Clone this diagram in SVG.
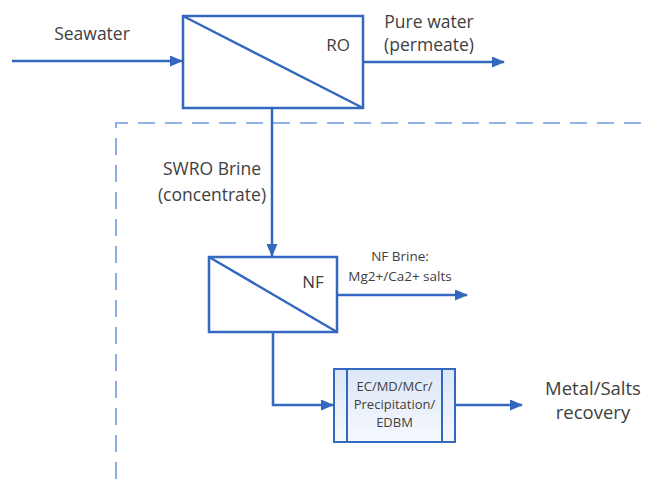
<svg xmlns="http://www.w3.org/2000/svg" width="651" height="479" viewBox="0 0 651 479">
<defs>
<style>
.ln{stroke:#3468C0;stroke-width:2.5;fill:none}
.bx{stroke:#3468C0;stroke-width:2.5;fill:#fff}
.t{font-family:"Open Sans","Liberation Sans",sans-serif;fill:#404040}
.dash{stroke:#6E9BE0;stroke-width:1.6;fill:none;stroke-dasharray:17 10}
</style>
<marker id="ah" viewBox="0 0 13 11" refX="12" refY="5.5" markerWidth="13" markerHeight="11" markerUnits="userSpaceOnUse" orient="auto">
<path d="M0,0 L13,5.5 L0,11 Z" fill="#3468C0"/>
</marker>
<linearGradient id="g" x1="0" y1="0" x2="0" y2="1">
<stop offset="0" stop-color="#DCE7F7"/>
<stop offset="1" stop-color="#F6F9FE"/>
</linearGradient>
</defs>
<rect width="651" height="479" fill="#fff"/>
<path class="dash" d="M116,479 V123 H651"/>
<g id="connectors">
<line class="ln" x1="12" y1="61" x2="182" y2="61" marker-end="url(#ah)"/>
<line class="ln" x1="363" y1="62" x2="504" y2="62" marker-end="url(#ah)"/>
<line class="ln" x1="272" y1="108" x2="272" y2="256" marker-end="url(#ah)"/>
<line class="ln" x1="337" y1="295" x2="467" y2="295" marker-end="url(#ah)"/>
<polyline class="ln" points="273,332 273,405 333,405" marker-end="url(#ah)"/>
<line class="ln" x1="455" y1="405" x2="522" y2="405" marker-end="url(#ah)"/>
</g>
<g id="seawater"><text class="t" x="92" y="40" font-size="17.5" text-anchor="middle">Seawater</text></g>
<g id="ro">
<rect class="bx" x="183" y="16" width="180" height="92"/>
<line class="ln" x1="183" y1="16" x2="363" y2="108"/>
<text class="t" x="338" y="51" font-size="17" text-anchor="middle">RO</text>
</g>
<g id="purewater">
<text class="t" x="429" y="28" font-size="17.5" text-anchor="middle">Pure water</text>
<text class="t" x="429" y="51" font-size="17.5" text-anchor="middle">(permeate)</text>
</g>
<g id="swrobrine">
<text class="t" x="212" y="175" font-size="17.5" text-anchor="middle">SWRO Brine</text>
<text class="t" x="212" y="201" font-size="17.5" text-anchor="middle">(concentrate)</text>
</g>
<g id="nf">
<rect class="bx" x="209" y="257" width="128" height="75"/>
<line class="ln" x1="209" y1="257" x2="337" y2="332"/>
<text class="t" x="313" y="288" font-size="17" text-anchor="middle">NF</text>
</g>
<g id="nfbrine">
<text class="t" x="400" y="261" font-size="13.5" text-anchor="middle">NF Brine:</text>
<text class="t" x="400" y="281" font-size="13.5" text-anchor="middle">Mg2+/Ca2+ salts</text>
</g>
<g id="ec">
<rect x="334" y="369" width="121" height="73" fill="url(#g)" stroke="#3468C0" stroke-width="2"/>
<line x1="347" y1="369" x2="347" y2="442" stroke="#3468C0" stroke-width="2"/>
<line x1="442" y1="369" x2="442" y2="442" stroke="#3468C0" stroke-width="2"/>
<text class="t" x="394.5" y="391" font-size="13" text-anchor="middle" fill="#555">EC/MD/MCr/</text>
<text class="t" x="394.5" y="409" font-size="13" text-anchor="middle" fill="#555">Precipitation/</text>
<text class="t" x="394.5" y="427" font-size="13" text-anchor="middle" fill="#555">EDBM</text>
</g>
<g id="metal">
<text class="t" x="593" y="395" font-size="18.5" text-anchor="middle">Metal/Salts</text>
<text class="t" x="593" y="419" font-size="18.5" text-anchor="middle">recovery</text>
</g>
</svg>
